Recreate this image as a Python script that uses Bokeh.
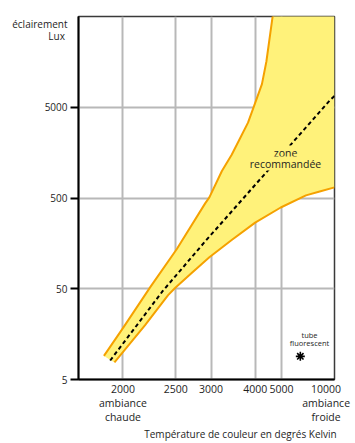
import numpy as np
from bokeh.plotting import figure
from bokeh.models import (Range1d, FixedTicker, CustomJSTickFormatter, Label,
                          LinearAxis, LogAxis)
from bokeh.embed import file_html
from bokeh.resources import INLINE

# ---- data (colour temperature in K, illuminance in lux) ----
upper_temp = [1866, 2000, 2232, 2512, 2905, 2971, 3196, 3397, 3625, 3795, 3979,
              4216, 4371, 4591, 4800]
upper_lux = [9.1, 18.4, 52.5, 137, 439, 508, 993, 1496, 2438, 3381, 5307,
             8995, 15960, 46130, 111500]
lower_temp = [1938, 2183, 2412, 2491, 2706, 2971, 3397, 4000, 4959, 6494, 7813, 10000]
lower_lux = [7.7, 19.9, 42.5, 50.9, 75.2, 111, 172, 268, 393, 534, 589, 655]
mid_temp = [1908, 2355, 2905, 3885, 5747, 9259, 10000]
mid_lux = [8.1, 47.3, 167, 623, 2211, 6040, 6650]
fluo_temp = [6075]
fluo_lux = [9.0]
x_ticks_k = [2000, 2500, 3000, 4000, 5000, 10000]
y_ticks = [5, 50, 500, 5000]
corner_temp = 10000
corner_lux = 140000
lux_bottom, lux_top = 5, 50000

y_title = ["éclairement", "Lux"]
x_title = "Température de couleur en degrés Kelvin"
warm_label = "ambiance\nchaude"
cold_label = "ambiance\nfroide"
zone_label = ["zone", "recommandée"]
fluo_label = ["tube", "fluorescent"]


def mired(t):
    return list(1e6 / np.asarray(t, dtype=float))


FONT = "Open Sans"
TXT = "#1e1e1e"
BAND = "#fff27a"
W, H = 355, 443
LEFT, RIGHT, TOP, BOTTOM = 78, 21, 16, 64
X0, X1 = 584, 100  # mired range (reversed: warm on the left)

p = figure(width=W, height=H, x_range=Range1d(X0, X1), y_range=Range1d(lux_bottom, lux_top),
           y_axis_type="log", output_backend="svg", toolbar_location=None,
           min_border_left=LEFT, min_border_right=RIGHT, min_border_top=TOP,
           min_border_bottom=BOTTOM,
           background_fill_color="white", border_fill_color="white",
           outline_line_color="#3a3a3a", outline_line_width=1.5)
frame_w = W - LEFT - RIGHT
frame_h = H - TOP - BOTTOM

# ---- x axis: temperature ticks placed on a reciprocal (mired) scale
pad = "\u00a0" * 2
x_fmt = CustomJSTickFormatter(args=dict(warm=warm_label, cold=cold_label, pad=pad), code="""
const t = Math.round(1e6 / tick);
if (t == 2000) return String(t) + "\\n" + warm;
if (t == 10000) return [String(t)].concat(cold.split("\\n")).map(s => s + pad).join("\\n");
return String(t);
""")
xa = p.xaxis[0]
xa.ticker = FixedTicker(ticks=mired(x_ticks_k))
xa.formatter = x_fmt
xa.major_tick_out = 0
xa.major_tick_in = 0
xa.minor_tick_out = 0
xa.minor_tick_in = 0
xa.axis_line_width = 2
xa.axis_line_color = "black"
xa.major_label_standoff = 2
xa.major_label_text_font = FONT
xa.major_label_text_color = TXT
xa.major_label_text_font_size = "10.5px"
xa.major_label_text_line_height = 1.0
p.xgrid.ticker = FixedTicker(ticks=mired(x_ticks_k))

# x title, centred 162 px right of the frame's left edge
x_title_pos = X0 + 162 * (X1 - X0) / frame_w
xt = LinearAxis(ticker=FixedTicker(ticks=[x_title_pos]),
                formatter=CustomJSTickFormatter(args=dict(t=x_title), code="return t;"),
                axis_line_color=None, major_tick_out=0, major_tick_in=0,
                minor_tick_out=0, minor_tick_in=0, major_label_standoff=0,
                major_label_text_font=FONT, major_label_text_font_size="10px",
                major_label_text_color=TXT)
p.add_layout(xt, "below")

# ---- y axis: marks on the inner axis, labels on an outer one
ya = p.yaxis[0]
ya.ticker = FixedTicker(ticks=y_ticks)
ya.formatter = CustomJSTickFormatter(code="return '';")
ya.major_tick_out = 8
ya.major_tick_in = 0
ya.major_tick_line_width = 2
ya.major_tick_line_color = "black"
ya.minor_tick_out = 0
ya.minor_tick_in = 0
ya.axis_line_width = 2
ya.axis_line_color = "black"
ya.major_label_standoff = 0
p.ygrid.ticker = FixedTicker(ticks=y_ticks)

decades = np.log10(lux_top / lux_bottom)
title_lux = [lux_top * 10 ** (-dy * decades / frame_h) for dy in (7.5, 19.0)]
y_fmt = CustomJSTickFormatter(args=dict(titles=y_title, pos=title_lux), code="""
for (let i = 0; i < pos.length; i++)
  if (Math.abs(tick / pos[i] - 1) < 1e-6) return titles[i] + (i == 1 ? "\\u00a0" : "");
return String(Math.round(tick));
""")
yl = LogAxis(ticker=FixedTicker(ticks=y_ticks + title_lux), formatter=y_fmt,
             axis_line_color=None, major_tick_out=0, major_tick_in=0,
             minor_tick_out=0, minor_tick_in=0, major_label_standoff=3,
             major_label_text_font=FONT, major_label_text_font_size="10px",
             major_label_text_color=TXT)
p.add_layout(yl, "left")

p.xgrid.grid_line_color = "#b8b8b8"
p.xgrid.grid_line_width = 2
p.ygrid.grid_line_color = "#b8b8b8"
p.ygrid.grid_line_width = 2

# ---- recommended zone
band_x = mired(upper_temp) + mired([corner_temp]) + mired(lower_temp[::-1])
band_y = upper_lux + [corner_lux] + lower_lux[::-1]
p.patch(band_x, band_y, fill_color=BAND, line_color=None)
p.line(mired(upper_temp), upper_lux, line_color="#f5a100", line_width=2, line_join="round")
p.line(mired(lower_temp), lower_lux, line_color="#f5a100", line_width=2, line_join="round")
p.line(mired(mid_temp), mid_lux, line_color="black", line_width=2, line_dash="4 3")

p.scatter(mired(fluo_temp), fluo_lux, marker="asterisk", size=9,
          line_color="black", line_width=1.6)


# screen units are measured from the frame's lower-left corner
def lab(text, x, y, size="10px", bg=None):
    p.add_layout(Label(x=x, y=y, x_units="screen", y_units="screen", text=text,
                       text_font=FONT, text_font_size=size, text_color=TXT,
                       text_align="center", text_baseline="middle",
                       background_fill_color=bg))


lab(zone_label[0], 207, 227, "10.5px", bg=BAND)
lab(zone_label[1], 207, 216, "10.5px", bg=BAND)
lab(fluo_label[0], 231, 45, "7.5px")
lab(fluo_label[1], 231, 37, "7.5px")

open("out.html", "w").write(file_html(p, INLINE))
